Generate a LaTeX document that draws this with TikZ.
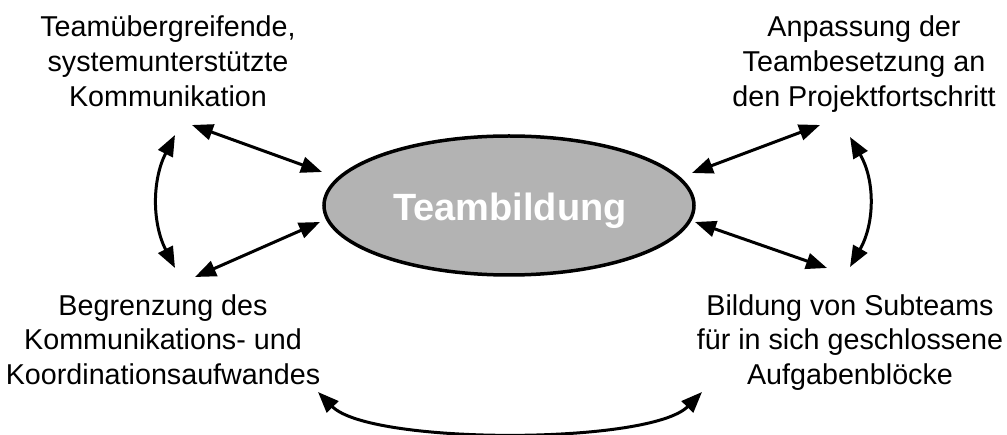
\documentclass[tikz,border=0pt]{standalone}
\usepackage{fontspec}
\setmainfont{Liberation Sans}
\usetikzlibrary{arrows.meta,shapes.geometric}
\definecolor{hubgray}{HTML}{B3B3B3}
\tikzstyle{hub}=[ellipse, draw, line width=3.5pt, fill=hubgray, minimum width=370pt, minimum height=139pt, inner sep=0pt]
\tikzstyle{hubtext}=[font=\fontsize{38}{40}\selectfont\bfseries, text=white, inner sep=0pt]
\tikzstyle{goal}=[align=center, font=\fontsize{28.7}{35}\selectfont, inner sep=0pt]
\tikzstyle{link}=[line width=3pt, {Triangle[length=21pt,width=16pt]}-{Triangle[length=21pt,width=16pt]}]

\begin{document}
\begin{tikzpicture}[x=1pt,y=-1pt]
   \useasboundingbox (0,0) rectangle (1007,435);
   \node[hub] (team) at (509,205.5) {};
   \node[hubtext,anchor=base] (title) at (510,220.5) {Teambildung};
   \node[goal,anchor=base] (komm) at (168,107) {Teamübergreifende,\\systemunterstützte\\Kommunikation};
   \node[goal,anchor=base] (anp) at (864,107) {Anpassung der\\Teambesetzung an\\den Projektfortschritt};
   \node[goal,anchor=base] (begr) at (163,385) {Begrenzung des\\Kommunikations- und\\Koordinationsaufwandes};
   \node[goal,anchor=base] (sub) at (850,385) {Bildung von Subteams\\für in sich geschlossene\\Aufgabenblöcke};

   \coordinate (komm-a) at (192,125);
   \coordinate (komm-b) at (175,135);
   \coordinate (anp-a) at (820,125);
   \coordinate (anp-b) at (850,137);
   \coordinate (begr-a) at (195,277);
   \coordinate (begr-b) at (175,268);
   \coordinate (begr-c) at (318,392);
   \coordinate (sub-a) at (827,268);
   \coordinate (sub-b) at (850,267);
   \coordinate (sub-c) at (702,392);
   \coordinate (team-nw) at (322,172);
   \coordinate (team-sw) at (320,222);
   \coordinate (team-ne) at (692,173);
   \coordinate (team-se) at (695,222);

   \draw[link] (komm-a) -- (team-nw);
   \draw[link] (begr-a) -- (team-sw);
   \draw[link] (anp-a) -- (team-ne);
   \draw[link] (sub-a) -- (team-se);
   \draw[link] (komm-b) .. controls (152,180) and (152,223) .. (begr-b);
   \draw[link] (anp-b) .. controls (875,180) and (875,223) .. (sub-b);
   \draw[link] (begr-c) .. controls (370,445) and (650,445) .. (sub-c);
\end{tikzpicture}
\end{document}
